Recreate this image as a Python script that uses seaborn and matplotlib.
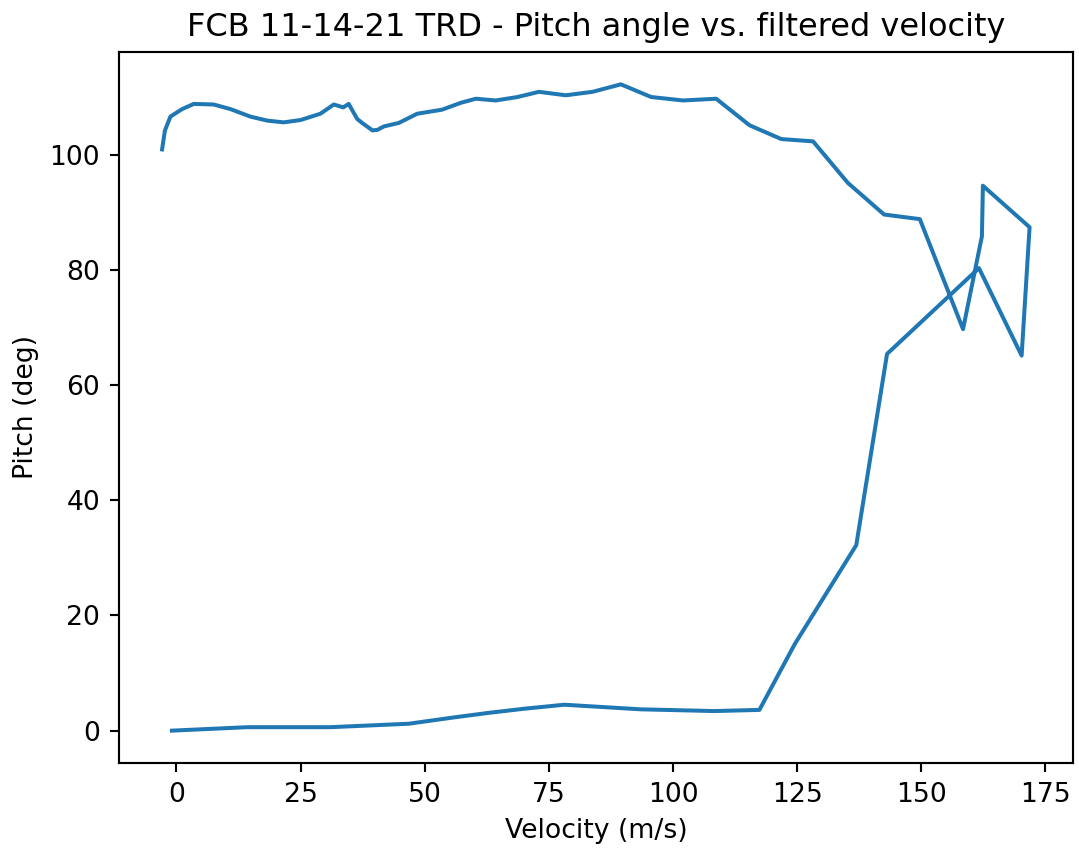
import matplotlib
matplotlib.use("Agg")
import matplotlib.pyplot as plt
import seaborn as sns
import pandas as pd

velocity = [-0.9, 14.3, 31.0, 46.8, 55.9, 63.0, 70.0, 78.1, 93.5, 108.3, 117.4,
            124.5, 136.9, 143.1, 161.6, 170.2, 171.8, 162.4, 162.2, 158.4, 149.7,
            142.5, 135.2, 128.2, 121.8, 115.4, 108.7, 102.0, 95.6, 89.5, 83.8,
            78.4, 73.0, 68.7, 64.3, 60.3, 57.3, 53.5, 48.5, 44.8, 43.8, 41.8,
            40.5, 39.5, 37.4, 36.4, 34.7, 33.6, 31.7, 29.0, 25.0, 21.6, 18.3,
            14.9, 10.9, 7.5, 3.5, 1.15, -1.2, -2.3, -2.88]
pitch = [0.0, 0.6, 0.6, 1.2, 2.3, 3.1, 3.8, 4.5, 3.7, 3.4, 3.6,
         15.0, 32.2, 65.4, 80.3, 65.1, 87.4, 94.6, 85.8, 69.7, 88.8,
         89.6, 95.1, 102.3, 102.7, 105.1, 109.7, 109.4, 110.0, 112.2, 110.9,
         110.3, 110.9, 110.0, 109.4, 109.7, 109.0, 107.8, 107.1, 105.5, 105.3, 104.9,
         104.3, 104.2, 105.5, 106.2, 108.8, 108.2, 108.7, 107.1, 106.0, 105.6, 105.9,
         106.6, 107.9, 108.7, 108.8, 107.9, 106.6, 104.2, 100.9]

df = pd.DataFrame({"Velocity": velocity, "Pitch": pitch})

dpi = 192
fig, ax = plt.subplots(figsize=(1079 / dpi, 850 / dpi), dpi=dpi)
fig.subplots_adjust(left=0.110, right=0.9944, top=0.9388, bottom=0.1024)

sns.lineplot(data=df, x="Velocity", y="Pitch", sort=False, estimator=None,
             color="#1f77b4", linewidth=1.5, ax=ax)

ax.set_title("FCB 11-14-21 TRD - Pitch angle vs. filtered velocity", fontsize=12)
ax.set_xlabel("Velocity (m/s)", fontsize=10)
ax.set_ylabel("Pitch (deg)", fontsize=10)
ax.set_xticks([0, 25, 50, 75, 100, 125, 150, 175])
ax.set_yticks([0, 20, 40, 60, 80, 100])

fig.savefig("out.png", dpi=dpi)
